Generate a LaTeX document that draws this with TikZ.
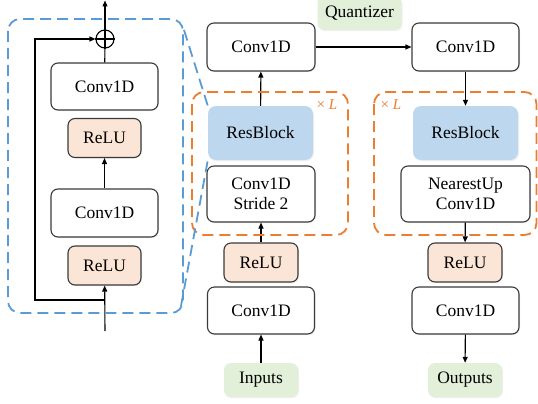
\documentclass[tikz,border=0pt]{standalone}
\usepackage{fontspec}
\setmainfont{Liberation Serif}
\usetikzlibrary{arrows.meta,shadows}

\definecolor{reluorange}{HTML}{FBE5D6}
\definecolor{resblue}{HTML}{BDD7EE}
\definecolor{iogreen}{HTML}{E2F0D9}
\definecolor{looporange}{HTML}{ED7D31}
\definecolor{zoomblue}{HTML}{5B9BD5}
\definecolor{boxgray}{HTML}{3A3A3A}

\begin{document}
\begin{tikzpicture}[
    x=1pt, y=-1pt,
    >={Triangle[length=6pt,width=5pt]},
    font=\fontsize{17.5}{20}\selectfont,
    shade/.style  = {drop shadow={opacity=0.12, shadow xshift=1pt, shadow yshift=-1.2pt}},
    box/.style    = {draw=boxgray, line width=1.1pt, rounded corners=7pt, fill=white, shade,
                     align=center, inner sep=0pt, minimum width=107pt, minimum height=47pt},
    relu/.style   = {box, fill=reluorange, minimum width=73pt, minimum height=39pt},
    res/.style    = {rounded corners=8pt, fill=resblue, shade, inner sep=0pt,
                     minimum width=105pt, minimum height=54pt},
    io/.style     = {rounded corners=7pt, fill=iogreen, shade, inner sep=0pt,
                     minimum width=74pt, minimum height=34pt},
    wire/.style   = {line width=1.1pt},
    loopbox/.style = {draw=looporange, line width=1.8pt, dash pattern=on 11pt off 6pt, rounded corners=12pt},
    zoombox/.style = {draw=zoomblue, line width=1.8pt, dash pattern=on 11pt off 6pt, rounded corners=12pt},
    times/.style  = {text=looporange, font=\fontsize{15}{17}\selectfont},
  ]
  \useasboundingbox (0,0) rectangle (538,404);

  % ResBlock im Detail
  \node[box] (rconvB) at (104.5,86.5) {Conv1D};
  \node[relu] (rreluB) at (104.5,138) {ReLU};
  \node[box, minimum height=48pt] (rconvA) at (104.5,213) {Conv1D};
  \node[relu] (rreluA) at (104.5,265.5) {ReLU};
  \node[draw, circle, line width=1.1pt, inner sep=0pt, minimum size=18pt] (radd) at (105,39) {};
  \draw[wire] (radd.north) -- (radd.south) (radd.west) -- (radd.east);

  \coordinate (rin) at (105,331);
  \coordinate (rout) at (105,0.5);
  \coordinate (rsplit) at (105,300);
  \coordinate (rskip) at (35,39);

  \draw[wire,->] (rin) -- (rreluA);
  \draw[wire,->] (rconvA) -- (rreluB);
  \draw[wire] (rconvB) -- (radd);
  \draw[wire,->] (radd) -- (rout);
  \draw[wire,->] (rsplit) -| (rskip) -- (radd);

  % Encoder
  \node[io] (inputs) at (261,380) {Inputs};
  \node[box] (econv1) at (261,310.5) {Conv1D};
  \node[relu, minimum width=74pt] (erelu) at (261,262.5) {ReLU};
  \node[box, minimum width=108pt, minimum height=56pt] (estride) at (261,194) {Conv1D\\Stride 2};
  \node[res] (eres) at (260.5,133) {ResBlock};
  \node[box, minimum width=108pt, minimum height=48pt] (econv2) at (261,47) {Conv1D};

  \draw[wire,->] (inputs) -- (econv1);
  \draw[wire,->] (erelu) -- (estride);
  \draw[wire,->] (eres) -- (econv2);

  % Quantizer
  \node[io, minimum width=84pt] (quant) at (359.5,13) {Quantizer};

  % Decoder
  \node[box, minimum height=48pt] (dconv1) at (465.5,47) {Conv1D};
  \node[res] (dres) at (465.5,133) {ResBlock};
  \node[box, minimum width=129pt, minimum height=56pt] (dup) at (465.5,194) {NearestUp\\Conv1D};
  \node[relu, minimum width=74pt] (drelu) at (465,262.5) {ReLU};
  \node[box] (dconv2) at (465.5,310.5) {Conv1D};
  \node[io] (outputs) at (465,380) {Outputs};

  \draw[wire,->] (econv2) -- (dconv1);
  \draw[wire,->] (dconv1) -- (dres);
  \draw[wire,->] (dup) -- (drelu);
  \draw[wire,->] (dconv2) -- (outputs);

  % Wiederholungen
  \draw[loopbox] (192,92) rectangle (348,235);
  \node[times] (erep) at (327,105) {× \textit{L}};
  \draw[loopbox] (374,92) rectangle (536.5,235);
  \node[times] (drep) at (391,105) {× \textit{L}};

  % Lupe
  \coordinate (zoomNE) at (184,30);
  \coordinate (zoomSE) at (181,306);
  \draw[zoombox] (8,19) rectangle (183,313);
  \draw[zoombox, rounded corners=0pt] (zoomNE) -- (eres.north west);
  \draw[zoombox, rounded corners=0pt] (zoomSE) -- (eres.south west);

\end{tikzpicture}
\end{document}
